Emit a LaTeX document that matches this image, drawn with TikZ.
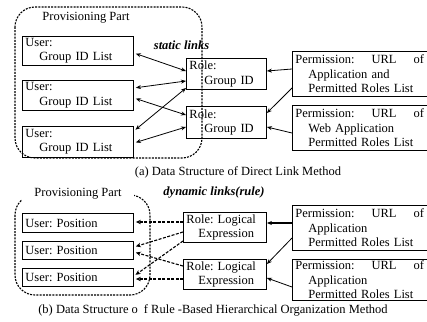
\documentclass[tikz,border=0pt]{standalone}
\usepackage{fontspec}
\setmainfont{Liberation Serif}
\usetikzlibrary{arrows.meta,calc}
\frenchspacing
\begin{document}
\begin{tikzpicture}[x=1pt,y=-1pt,
  every node/.style={font=\fontsize{12.5}{14.5}\selectfont\frenchspacing},
  box/.style={draw, line width=0.9pt, anchor=north west, inner xsep=3pt, inner ysep=0pt, align=left},
  region/.style={line width=1.1pt, dash pattern=on 2pt off 1.2pt, rounded corners=20pt},
  bilink/.style={{Stealth[length=5pt,width=4pt]}-{Stealth[length=5pt,width=4pt]}, line width=0.8pt, shorten <=2pt},
  permlink/.style={-{Stealth[length=5pt,width=4pt]}, line width=0.8pt},
  dynlink/.style={-{Stealth[length=5pt,width=4.5pt]}, line width=1.1pt, dash pattern=on 3pt off 1.5pt, shorten >=2pt},
  linklabel/.style={font=\fontsize{12.5}{14.5}\selectfont\bfseries\itshape}
]
\useasboundingbox (0,0) rectangle (427,321);

% ---------- (a) ----------
\draw[region] (15,7) rectangle (202,158);
\node (ppa) at (86,18) {Provisioning Part};
\node[box, text width=105pt, minimum height=29pt] (ua1) at (22,36) {User:\\\hspace*{14pt}Group ID List};
\node[box, text width=105pt, minimum height=30pt] (ua2) at (22,80) {User:\\\hspace*{14pt}Group ID List};
\node[box, text width=105pt, minimum height=31pt] (ua3) at (22,126) {User:\\\hspace*{14pt}Group ID List};
\node[linklabel] (sl) at (181.5,45) {static links};
\node[box, text width=74pt, minimum height=31pt] (ra1) at (186,58) {Role:\\\hspace*{15pt}Group ID};
\node[box, text width=74pt, minimum height=32pt] (ra2) at (186,106) {Role:\\\hspace*{15pt}Group ID};
\node[box, text width=128.5pt, minimum height=45pt] (pa1) at (292,51) {Permission:\hfill URL\hfill of\\\hspace*{13pt}Application and\\\hspace*{13pt}Permitted Roles List};
\node[box, text width=128.5pt, minimum height=45pt] (pa2) at (292,105) {Permission:\hfill URL\hfill of\\\hspace*{13pt}Web Application\\\hspace*{13pt}Permitted Roles List};
\node (capa) at (238,172) {(a) Data Structure of Direct Link Method};

\draw[bilink] (ua1.east |- 0,53) -- (ra1.west |- 0,71);
\draw[bilink] (ua2.east |- 0,88) -- (ra1.west |- 0,81);
\draw[bilink] (ua2.east |- 0,98) -- (ra2.west |- 0,115);
\draw[bilink] (ua3.east |- 0,131) -- (ra1.west |- 0,88);
\draw[bilink] (ua3.east |- 0,143) -- (ra2.west |- 0,127);
\draw[permlink] (pa1.west |- 0,69) -- (ra1.east |- 0,71);
\draw[permlink] (pa1.west |- 0,88) -- (ra2.east |- 0,113);
\draw[permlink] (pa2.west |- 0,133) -- (ra2.east |- 0,127);

% ---------- (b) ----------
\draw[region] (15,195) rectangle (150,295);
\node[fill=white, inner xsep=12pt, inner ysep=4pt] (ppb) at (78,194) {Provisioning Part};
\node[box, text width=105pt, minimum height=19pt] (ub1) at (22,213) {User: Position};
\node[box, text width=105pt, minimum height=18pt] (ub2) at (22,241) {User: Position};
\node[box, text width=105pt, minimum height=18pt] (ub3) at (22,268) {User: Position};
\node[linklabel] (dl) at (214,193) {dynamic links(rule)};
\node[box, text width=77pt, minimum height=30pt] (rb1) at (183,212) {Role: Logical\\\hspace*{12pt}Expression};
\node[box, text width=77pt, minimum height=30pt] (rb2) at (183,259) {Role: Logical\\\hspace*{12pt}Expression};
\node[box, text width=128.5pt, minimum height=45pt] (pb1) at (292,205) {Permission:\hfill URL\hfill of\\\hspace*{13pt}Application\\\hspace*{13pt}Permitted Roles List};
\node[box, text width=128.5pt, minimum height=41pt] (pb2) at (292,259) {Permission:\hfill URL\hfill of\\\hspace*{13pt}Application\\\hspace*{13pt}Permitted Roles List};
\node (capb) at (213,310) {(b) Data Structure o\hspace{6pt}f Rule -Based Hierarchical Organization Method};

\draw[dynlink] (rb1.west |- 0,222) -- (ub1.east |- 0,222);
\draw[dynlink] (rb1.west |- 0,232) -- (ub2.east |- 0,247);
\draw[dynlink] (rb1.west |- 0,241) -- (ub3.east |- 0,276);
\draw[dynlink] (rb2.west |- 0,266) -- (ub2.east |- 0,252);
\draw[dynlink] (rb2.west |- 0,279) -- (ub3.east |- 0,279);
\draw[permlink, line width=1.5pt] (pb1.west |- 0,223) -- (rb1.east |- 0,223);
\draw[permlink] (pb1.west |- 0,238) -- (rb2.east |- 0,264);
\draw[permlink] (pb2.west |- 0,287) -- (rb2.east |- 0,278);
\end{tikzpicture}
\end{document}
